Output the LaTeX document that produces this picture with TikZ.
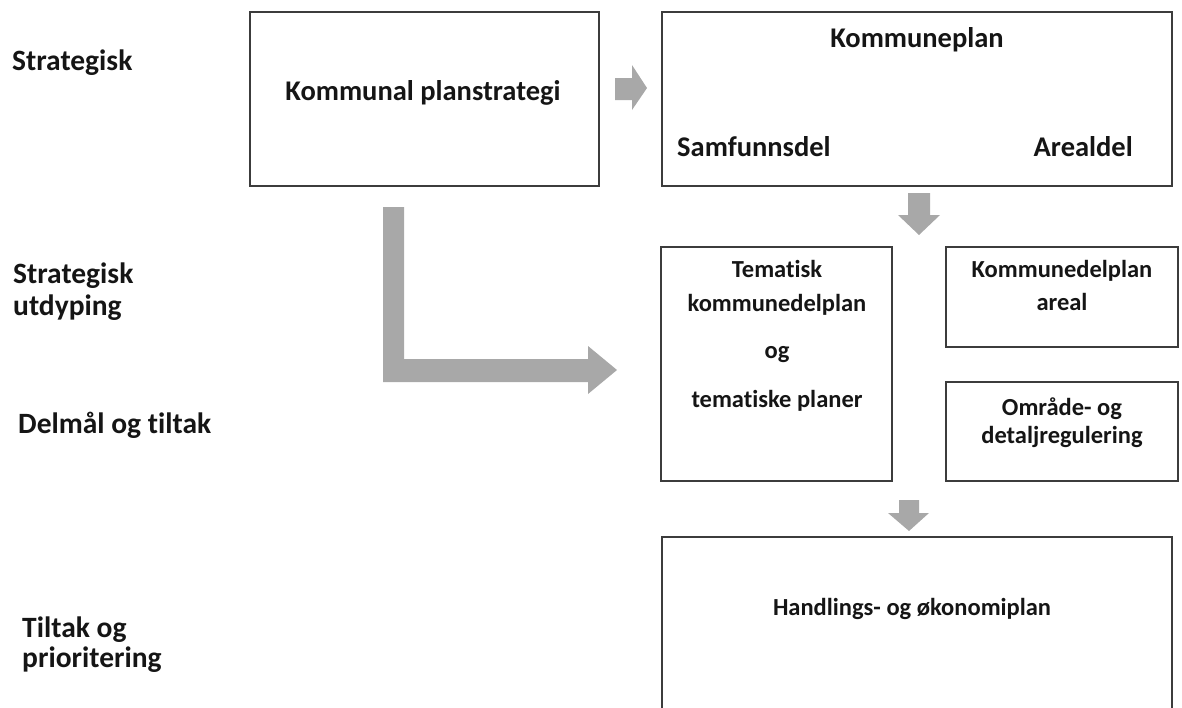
\documentclass[tikz,border=0pt]{standalone}
\usepackage{fontspec}
\setmainfont{Carlito}[Ligatures=NoCommon]
\begin{document}
\begin{tikzpicture}[x=1pt,y=-1pt,
  box/.style={draw=boxgray,line width=1.4pt},
  blk/.style={fill=arrgray,draw=none},
  big/.style={font=\fontsize{28.5}{34}\selectfont\bfseries,inner sep=0pt,text=txt},
  lab/.style={font=\fontsize{29.5}{34}\selectfont\bfseries,inner sep=0pt,anchor=base west,text=txt},
  small/.style={font=\fontsize{24.5}{30}\selectfont\bfseries,inner sep=0pt,anchor=base,text=txt}]
\definecolor{boxgray}{HTML}{3C3C3C}
\definecolor{arrgray}{HTML}{A8A8A8}
\definecolor{txt}{HTML}{151515}
\useasboundingbox (0,0) rectangle (1182,707);
\clip (0,0) rectangle (1182,707);
% left labels
\node[lab] (l1) at (12,70) {Strategisk};
\node[lab] (l2) at (13,283) {Strategisk};
\node[lab] (l3) at (13,315) {utdyping};
\node[lab] (l4) at (18,433) {Delmål og tiltak};
\node[lab] (l5) at (22,637) {Tiltak og};
\node[lab] (l6) at (22,667) {prioritering};
% boxes
\draw[box] (250,12) rectangle (599,186);
\node[big,anchor=base] (kps) at (423,100) {Kommunal planstrategi};
\draw[box] (662,12) rectangle (1172,186);
\node[big,anchor=base] (kp) at (917,47) {Kommuneplan};
\node[big,anchor=base west] (sd) at (677,156) {Samfunnsdel};
\node[big,anchor=base east] (ad) at (1133,156) {Arealdel};
\draw[box] (661,247) rectangle (892,481);
\node[small] (t1) at (777,277) {Tematisk};
\node[small] (t2) at (777,311) {kommunedelplan};
\node[small] (t3) at (777,358) {og};
\node[small] (t4) at (777,407) {tematiske planer};
\draw[box] (946,247) rectangle (1178,347);
\node[small] (k1) at (1062,277) {Kommunedelplan};
\node[small] (k2) at (1062,310) {areal};
\draw[box] (946,382) rectangle (1178,481);
\node[small] (o1) at (1062,415) {Område- og};
\node[small] (o2) at (1062,443) {detaljregulering};
\draw[box] (662,720) -- (662,537) -- (1172,537) -- (1172,720);
\node[small] (h) at (912,615) {Handlings- og økonomiplan};
% block arrows
\fill[blk] (615,78) -- (632,78) -- (632,65) -- (647,88) -- (632,110) -- (632,100) -- (615,100) -- cycle;
\fill[blk] (908,193) -- (930,193) -- (930,215) -- (940,215) -- (919,235) -- (898,215) -- (908,215) -- cycle;
\fill[blk] (899,500) -- (919,500) -- (919,513) -- (929,513) -- (909,531) -- (888,513) -- (899,513) -- cycle;
\fill[blk] (383,207) -- (404,207) -- (404,359) -- (588,359) -- (588,346) -- (617,370) -- (588,394) -- (588,382) -- (383,382) -- cycle;
\end{tikzpicture}
\end{document}
